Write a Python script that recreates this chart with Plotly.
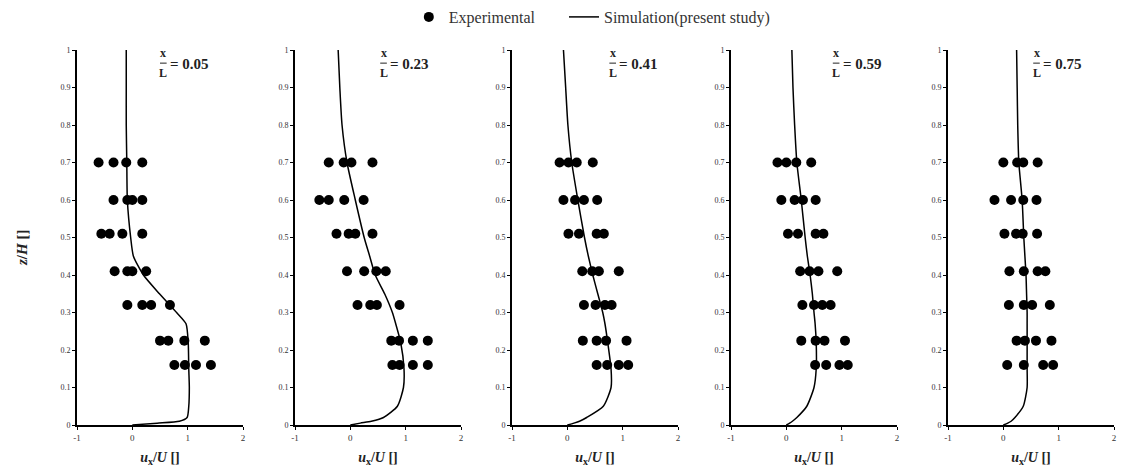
import plotly.graph_objects as go

# ---------------- data ----------------
positions = ["0.05", "0.23", "0.41", "0.59", "0.75"]

z_rows = [0.70, 0.60, 0.51, 0.41, 0.32, 0.225, 0.16]

exp_u = [
    [[-0.61, -0.34, -0.11, 0.18], [-0.34, -0.09, 0.00, 0.18], [-0.56, -0.41, -0.18, 0.18],
     [-0.32, -0.09, 0.00, 0.25], [-0.09, 0.18, 0.34, 0.68], [0.50, 0.65, 0.94, 1.31],
     [0.76, 0.95, 1.15, 1.42]],
    [[-0.39, -0.12, 0.02, 0.40], [-0.56, -0.39, -0.11, 0.24], [-0.25, -0.03, 0.09, 0.40],
     [-0.06, 0.25, 0.47, 0.64], [0.13, 0.36, 0.48, 0.89], [0.74, 0.88, 1.13, 1.40],
     [0.76, 0.89, 1.13, 1.40]],
    [[-0.14, 0.02, 0.17, 0.46], [-0.07, 0.14, 0.30, 0.54], [0.02, 0.21, 0.53, 0.66],
     [0.27, 0.45, 0.57, 0.93], [0.30, 0.51, 0.68, 0.80], [0.28, 0.53, 0.70, 1.07],
     [0.53, 0.72, 0.93, 1.10]],
    [[-0.16, 0.00, 0.18, 0.45], [-0.09, 0.15, 0.30, 0.53], [0.03, 0.21, 0.53, 0.67],
     [0.25, 0.42, 0.58, 0.92], [0.29, 0.50, 0.65, 0.80], [0.27, 0.53, 0.69, 1.06],
     [0.52, 0.72, 0.96, 1.11]],
    [[0.00, 0.25, 0.36, 0.62], [-0.16, 0.14, 0.36, 0.60], [0.02, 0.23, 0.35, 0.61],
     [0.11, 0.37, 0.62, 0.76], [0.10, 0.37, 0.52, 0.84], [0.24, 0.39, 0.59, 0.87],
     [0.07, 0.37, 0.72, 0.90]],
]

sim_z = [0.0, 0.005, 0.01, 0.02, 0.05, 0.10, 0.15, 0.22, 0.27, 0.30, 0.35,
         0.40, 0.45, 0.50, 0.60, 0.70, 0.80, 0.90, 1.0]
sim_u = [
    [0.0, 0.45, 0.85, 0.99, 1.02, 1.03, 1.02, 1.01, 0.97, 0.80, 0.49,
     0.20, 0.02, -0.03, -0.09, -0.10, -0.11, -0.11, -0.11],
    [0.0, 0.18, 0.38, 0.60, 0.85, 0.96, 0.97, 0.91, 0.82, 0.76, 0.62,
     0.45, 0.35, 0.25, 0.09, -0.06, -0.15, -0.19, -0.22],
    [0.0, 0.12, 0.22, 0.35, 0.65, 0.79, 0.79, 0.73, 0.68, 0.64, 0.55,
     0.46, 0.38, 0.31, 0.19, 0.08, 0.01, -0.03, -0.07],
    [0.0, 0.06, 0.11, 0.19, 0.37, 0.50, 0.54, 0.54, 0.52, 0.50, 0.47,
     0.43, 0.38, 0.34, 0.27, 0.19, 0.15, 0.12, 0.10],
    [0.0, 0.08, 0.14, 0.21, 0.36, 0.43, 0.43, 0.43, 0.43, 0.43, 0.42,
     0.41, 0.39, 0.37, 0.34, 0.28, 0.26, 0.25, 0.24],
]

x_ticks = [-1, 0, 1, 2]
y_ticks = [0, 0.1, 0.2, 0.3, 0.4, 0.5, 0.6, 0.7, 0.8, 0.9, 1]
y_tick_labels = ["0", "0.1", "0.2", "0.3", "0.4", "0.5", "0.6", "0.7", "0.8", "0.9", "1"]

legend_names = ["Experimental", "Simulation(present study)"]

# ---------------- layout geometry ----------------
W, H = 1123, 470
panel_left_px = [77, 295, 512, 731, 948]
panel_width_px = 166
plot_top_px, plot_bottom_px = 50, 425
label_u = [0.56, 0.60, 0.82, 0.90, 0.60]   # x position (data units) of the x/L label

FONT = "Liberation Serif"
PAD = "\u00a0" * 6

fig = go.Figure()
layout = dict(
    width=W, height=H,
    margin=dict(l=0, r=0, t=0, b=0),
    paper_bgcolor="white", plot_bgcolor="white",
    showlegend=True,
    legend=dict(orientation="h", x=0.527, xanchor="center", y=1.0, yanchor="top",
                font=dict(family=FONT, size=16, color="#333333"),
                itemwidth=30, tracegroupgap=0, bgcolor="rgba(0,0,0,0)"),
    annotations=[], shapes=[],
)

for i in range(5):
    suffix = "" if i == 0 else str(i + 1)
    xa, ya = "x" + suffix, "y" + suffix
    xs, ys = [], []
    for zr, row in zip(z_rows, exp_u[i]):
        for u in row:
            xs.append(u)
            ys.append(zr)
    fig.add_trace(go.Scatter(
        x=xs, y=ys, mode="markers", name=legend_names[0] + PAD,
        marker=dict(color="black", size=10), xaxis=xa, yaxis=ya,
        showlegend=(i == 0), cliponaxis=False))
    fig.add_trace(go.Scatter(
        x=sim_u[i], y=sim_z, mode="lines", name=legend_names[1],
        line=dict(color="black", width=1.5, shape="spline", smoothing=0.6),
        xaxis=xa, yaxis=ya, showlegend=(i == 0)))

    x0 = panel_left_px[i] / W
    x1 = (panel_left_px[i] + panel_width_px) / W
    layout["xaxis" + suffix] = dict(
        domain=[x0, x1], range=[-1, 2], anchor=ya,
        tickvals=x_ticks, ticktext=[str(t) for t in x_ticks],
        showgrid=False, zeroline=False, showline=True, linecolor="black", linewidth=2,
        ticks="outside", ticklen=3, tickcolor="black", tickwidth=1,
        tickfont=dict(family=FONT, size=9, color="#333333"),
        title=dict(text="<b><i>u</i><sub>x</sub>/<i>U</i> []</b>",
                   font=dict(family=FONT, size=14, color="#222222"), standoff=10),
        automargin=False, fixedrange=True)
    layout["yaxis" + suffix] = dict(
        domain=[(H - plot_bottom_px) / H, (H - plot_top_px) / H], range=[0, 1], anchor=xa,
        tickvals=y_ticks, ticktext=y_tick_labels,
        showgrid=False, zeroline=False, showline=True, linecolor="black", linewidth=2,
        ticks="outside", ticklen=3, tickcolor="black", tickwidth=1,
        tickfont=dict(family=FONT, size=8, color="#333333"),
        automargin=False, fixedrange=True)

    # stacked fraction label x/L = value
    lu = label_u[i]
    afont = dict(family=FONT, size=12, color="#222222")
    layout["annotations"] += [
        dict(x=lu, y=0.992, xref=xa, yref=ya, text="<b>x</b>", showarrow=False,
             font=afont, xanchor="center", yanchor="middle"),
        dict(x=lu, y=0.938, xref=xa, yref=ya, text="<b>L</b>", showarrow=False,
             font=afont, xanchor="center", yanchor="middle"),
        dict(x=lu + 0.08, y=0.963, xref=xa, yref=ya, text="<b>= " + positions[i] + "</b>",
             showarrow=False, font=dict(family=FONT, size=15, color="#222222"),
             xanchor="left", yanchor="middle"),
    ]
    layout["shapes"].append(dict(type="line", xref=xa, yref=ya,
                                 x0=lu - 0.06, x1=lu + 0.06, y0=0.965, y1=0.965,
                                 line=dict(color="#222222", width=1)))

layout["annotations"].append(dict(
    x=22 / W, y=(H - 248) / H, xref="paper", yref="paper",
    text="<b><i>z</i>/<i>H</i> []</b>", textangle=-90, showarrow=False,
    font=dict(family=FONT, size=15, color="#222222"), xanchor="center", yanchor="middle"))

fig.update_layout(**layout)
fig.write_html("out.html")
